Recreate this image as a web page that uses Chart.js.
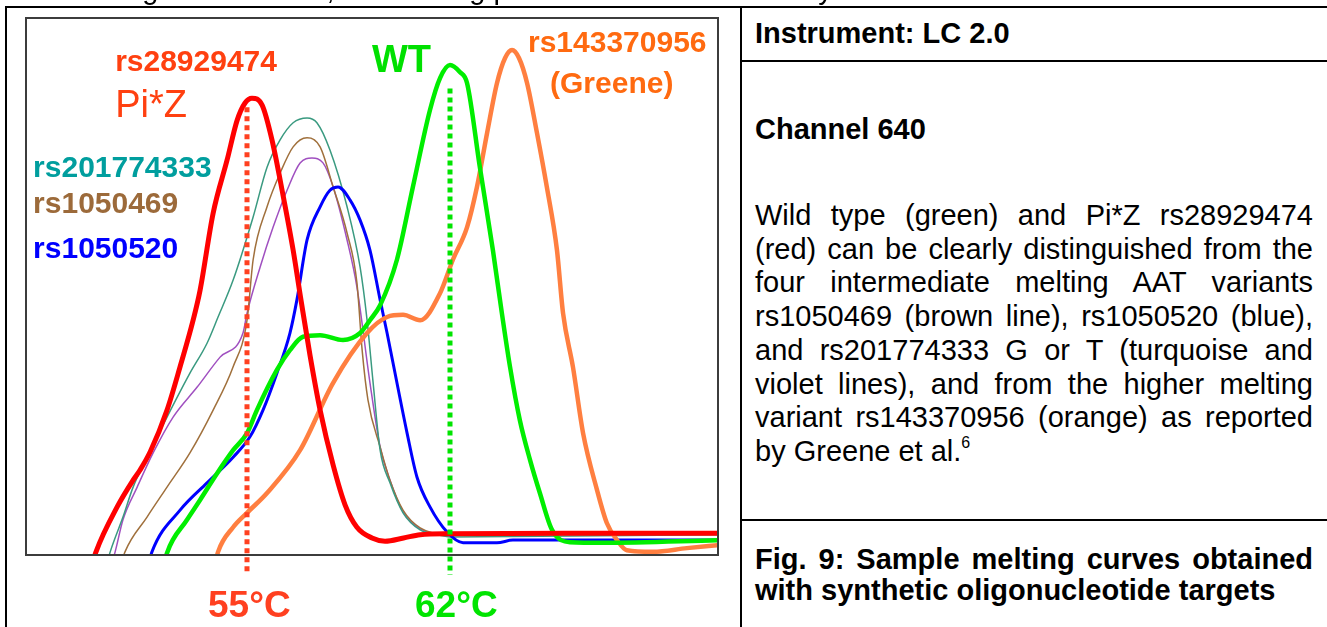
<!DOCTYPE html>
<html>
<head>
<meta charset="utf-8">
<script src="https://cdn.jsdelivr.net/npm/chart.js@4.4.1/dist/chart.umd.min.js"></script>
<style>
    body { margin: 0; width: 1327px; height: 627px; overflow: hidden; background: #fff; position: relative;
           font-family: "Liberation Sans", Arial, sans-serif; color: #000; }
    .ln { position: absolute; background: #000; }
    .cut { position: absolute; top: -25.5px; font-size: 29px; line-height: 29px; white-space: nowrap; }
    .hd { position: absolute; left: 755px; font-size: 29px; font-weight: bold; line-height: 33.7px; white-space: nowrap; }
    .para { position: absolute; left: 755px; top: 199px; width: 558px; font-size: 29px; line-height: 33.7px; }
    .para div, .fig div { text-align: justify; text-align-last: justify; white-space: nowrap; }
    .para div.last, .fig div.last { text-align-last: left; }
    .fig { position: absolute; left: 755px; top: 544px; width: 558px; font-size: 29px; font-weight: bold; line-height: 31px; }
    sup { font-size: 16px; line-height: 0; vertical-align: baseline; position: relative; top: -13px; }
    #chart { position: absolute; left: 0; top: 0; }
</style>
</head>
<body>
<canvas id="chart" width="740" height="627"></canvas>

<!-- bottom of the text line above, clipped by the page edge -->
<span class="cut" style="left:65px">melting</span>
<span class="cut" style="left:241px">curves,</span>
<span class="cut" style="left:379px">showing peaks</span>
<span class="cut" style="left:749px">clearly</span>

<div class="ln" style="left:5px;top:6px;width:1322px;height:2px"></div>
<div class="ln" style="left:5px;top:6px;width:2px;height:621px"></div>
<div class="ln" style="left:740px;top:6px;width:2px;height:621px"></div>
<div class="ln" style="left:740px;top:60px;width:587px;height:2px"></div>
<div class="ln" style="left:740px;top:519px;width:587px;height:2px"></div>

<div class="hd" style="top:17px">Instrument: LC 2.0</div>
<div class="hd" style="top:113px">Channel 640</div>

<div class="para">
    <div>Wild type (green) and Pi*Z rs28929474</div>
    <div>(red) can be clearly distinguished from the</div>
    <div>four intermediate melting AAT variants</div>
    <div>rs1050469 (brown line), rs1050520 (blue),</div>
    <div>and rs201774333 G or T (turquoise and</div>
    <div>violet lines), and from the higher melting</div>
    <div>variant rs143370956 (orange) as reported</div>
    <div class="last">by Greene et al.<sup>6</sup></div>
</div>

<div class="fig">
    <div>Fig. 9: Sample melting curves obtained</div>
    <div class="last">with synthetic oligonucleotide targets</div>
</div>

<script>
// temperature (°C) and -dF/dT (arbitrary units, 0-100)
var redT = [49.6, 49.79, 50.52, 51.07, 51.31, 51.66, 52.24, 52.69, 53.14, 53.38, 53.83, 54.31, 54.66, 54.93, 55.17,
            55.52, 55.86, 56.24, 56.59, 56.86, 57.17, 57.52, 57.97, 58.38, 58.79, 59.31, 59.76, 60.4, 60.97, 62.0, 66.0, 71.3];
var redV = [-3, 0.4, 8.8, 13.8, 15.7, 19.1, 26.9, 35.0, 43.7, 49.3, 63.7, 73.6, 81.1, 84.3, 85.2,
            83.9, 77.4, 67.1, 56.8, 47.5, 37.2, 26.9, 16.6, 9.2, 5.0, 3.0, 2.4, 3.0, 3.6, 3.8, 3.9, 3.9];

var greenT = [52.1, 52.24, 52.93, 53.38, 53.97, 54.52, 55.0, 55.34, 56.03, 56.48, 56.93, 57.52, 58.31, 58.9, 59.24, 59.59,
              60.17, 60.72, 61.31, 61.66, 62.0, 62.34, 62.59, 63.03, 63.48, 63.79, 64.07, 64.41, 64.76, 65.1, 65.52,
              66.14, 67.28, 71.3];
var greenV = [-3, 0.2, 6.4, 10.1, 15.1, 19.4, 22.6, 26.9, 34.4, 38.1, 40.6, 40.9, 40.0, 41.3, 43.7, 46.5,
              55.0, 68.6, 83.0, 89.0, 91.4, 90.1, 88.0, 72.3, 56.8, 45.0, 35.0, 25.0, 17.6, 11.4, 4.5,
              2.2, 2.1, 2.6];

var orangeT = [53.85, 54.0, 54.52, 55.0, 55.69, 56.83, 57.97, 59.14, 59.83, 60.38, 60.97, 61.66, 62.1, 62.59, 62.93,
               63.28, 63.62, 63.9, 64.14, 64.38, 64.66, 65.0, 65.34, 65.69, 65.9, 66.24, 66.59, 67.07, 67.41, 67.76,
               68.1, 69.0, 70.17, 71.3];
var orangeV = [-3, 0.4, 5.0, 7.7, 11.4, 19.4, 32.0, 41.3, 44.3, 44.7, 43.7, 48.8, 55.0, 61.1, 68.6,
               78.7, 88.0, 92.7, 94.2, 92.7, 88.0, 78.7, 68.6, 56.8, 45.0, 35.0, 22.6, 12.0, 5.8, 2.6,
               0.7, 0.4, 1.1, 1.7];

var blueT = [51.55, 51.72, 52.69, 53.62, 54.52, 55.1, 55.55, 56.03, 56.48, 56.72, 57.07, 57.52, 57.86, 58.14, 58.55,
             58.9, 59.24, 59.59, 59.83, 60.17, 60.52, 60.86, 61.31, 61.9, 62.45, 63.62, 64.17, 71.3];
var blueV = [-3, 0.4, 8.2, 13.3, 18.1, 21.9, 26.9, 33.8, 41.3, 47.5, 58.7, 64.9, 68.0, 68.6, 66.2,
             62.4, 56.8, 47.5, 41.3, 32.0, 22.6, 14.4, 8.8, 4.1, 2.1, 2.1, 2.6, 2.6];

var tealT = [50.1, 50.28, 50.72, 51.07, 51.55, 52.24, 53.03, 53.62, 54.0, 54.52, 55.21, 55.69, 56.14, 56.59, 57.07,
             57.41, 57.86, 58.45, 58.9, 59.14, 59.34, 59.59, 59.93, 60.38, 60.97, 61.55, 62.0, 71.3];
var tealV = [-3, 0.4, 6.9, 12.5, 18.1, 25.6, 33.8, 39.4, 44.3, 51.2, 63.0, 72.3, 77.4, 80.6, 81.5,
             80.6, 75.5, 64.9, 53.6, 43.7, 32.5, 19.4, 13.3, 7.7, 4.5, 3.6, 3.2, 3.6];

var brownT = [50.6, 50.79, 51.55, 52.24, 53.03, 53.83, 54.52, 55.0, 55.21, 55.69, 56.14, 56.59, 57.07, 57.52, 57.97,
              58.45, 58.79, 58.97, 59.17, 59.59, 59.93, 60.38, 60.97, 62.0, 71.3];
var brownV = [-3, 0.4, 6.9, 12.5, 18.9, 26.9, 35.0, 43.7, 55.0, 64.9, 71.2, 76.1, 77.8, 76.1, 68.6,
              60.0, 50.7, 38.1, 28.8, 20.0, 13.8, 8.2, 4.9, 3.6, 3.9];

var violetT = [50.25, 50.45, 50.72, 51.21, 51.76, 52.45, 53.28, 54.07, 54.86, 55.0, 55.45, 55.9, 56.38, 56.83, 57.24,
               57.62, 57.97, 58.45, 58.79, 59.24, 59.59, 59.93, 60.38, 60.97, 62.0, 71.3];
var violetV = [-3, 0.4, 6.4, 12.5, 18.9, 25.6, 31.2, 36.8, 41.3, 45.0, 53.6, 61.1, 68.0, 73.1, 74.0,
               73.1, 68.6, 58.7, 49.9, 32.0, 20.0, 13.8, 7.9, 4.7, 3.6, 3.7];

var markerTemps = [55, 62];

function pts(t, v) {
    return t.map(function(x, i) { return { x: x, y: v[i] }; });
}

var markers = [
    { temp: markerTemps[0], from: 83.5, color: '#ff4020', shift: -39 },
    { temp: markerTemps[1], from: 87.0, color: '#00e400', shift: -35 }
];

var seriesLabels = [
    { text: 'rs28929474', t: 50.45, v: 90.3, font: 'bold 30px', color: '#ff4010' },
    { text: 'Pi*Z', t: 50.45, v: 81.7, font: '38px', color: '#ff4010' },
    { text: 'WT', t: 59.31, v: 90.1, font: 'bold 38px', color: '#00e000' },
    { text: 'rs143370956', t: 64.69, v: 93.8, font: 'bold 30px', color: '#ff6a10' },
    { text: '(Greene)', t: 65.45, v: 86.2, font: 'bold 30px', color: '#ff6a10' },
    { text: 'rs201774333', t: 47.62, v: 70.5, font: 'bold 30px', color: '#009e9e' },
    { text: 'rs1050469', t: 47.62, v: 63.7, font: 'bold 30px', color: '#9c6a3a' },
    { text: 'rs1050520', t: 47.62, v: 55.3, font: 'bold 30px', color: '#0000ff' }
];

var fontFam = ' "Liberation Sans", Arial, sans-serif';

var overlay = {
    id: 'overlay',
    afterDatasetsDraw: function(chart) {
        var ctx = chart.ctx;
        var a = chart.chartArea;
        var xs = chart.scales.x, ys = chart.scales.y;
        ctx.save();

        // frame round the plot
        ctx.strokeStyle = '#3c3c3c';
        ctx.lineWidth = 2;
        ctx.strokeRect(a.left - 1, a.top - 1, a.right - a.left + 2, a.bottom - a.top + 2);

        // dotted Tm markers and their labels
        markers.forEach(function(m) {
            var px = Math.round(xs.getPixelForValue(m.temp));
            ctx.strokeStyle = m.color;
            ctx.lineWidth = 5;
            ctx.setLineDash([5, 4]);
            ctx.beginPath();
            ctx.moveTo(px, ys.getPixelForValue(m.from));
            ctx.lineTo(px, a.bottom + 21);
            ctx.stroke();
            ctx.setLineDash([]);
            ctx.fillStyle = m.color;
            ctx.font = 'bold 37px' + fontFam;
            ctx.textAlign = 'left';
            ctx.textBaseline = 'alphabetic';
            ctx.fillText(m.temp + '\u00b0C', px + m.shift, a.bottom + 63);
        });

        seriesLabels.forEach(function(l) {
            ctx.font = l.font + fontFam;
            ctx.fillStyle = l.color;
            ctx.textAlign = 'left';
            ctx.textBaseline = 'alphabetic';
            ctx.fillText(l.text, xs.getPixelForValue(l.t), ys.getPixelForValue(l.v));
        });
        ctx.restore();
    }
};

function line(label, t, v, color, width) {
    return {
        label: label,
        data: pts(t, v),
        borderColor: color,
        borderWidth: width,
        pointRadius: 0,
        fill: false,
        cubicInterpolationMode: 'monotone'
    };
}

var ctx = document.getElementById('chart').getContext('2d');
var chart = new Chart(ctx, {
    type: 'line',
    data: {
        datasets: [
            line('rs28929474 Pi*Z', redT, redV, '#ff0000', 5),
            line('WT', greenT, greenV, '#00ee00', 4.5),
            line('rs143370956', orangeT, orangeV, '#ff7f40', 4.5),
            line('rs1050520', blueT, blueV, '#0000ff', 3),
            line('rs201774333 G', tealT, tealV, '#3a9a80', 1.5),
            line('rs1050469', brownT, brownV, '#a0703c', 1.5),
            line('rs201774333 T', violetT, violetV, '#a050c0', 1.5)
        ]
    },
    options: {
        responsive: false,
        animation: false,
        layout: { padding: { left: 27, right: 23, top: 19, bottom: 73 } },
        scales: {
            x: { type: 'linear', min: 47.41, max: 71.21, display: false },
            y: { type: 'linear', min: 0, max: 100, display: false }
        },
        plugins: {
            legend: { display: false },
            tooltip: { enabled: false }
        }
    },
    plugins: [overlay]
});
</script>
</body>
</html>
